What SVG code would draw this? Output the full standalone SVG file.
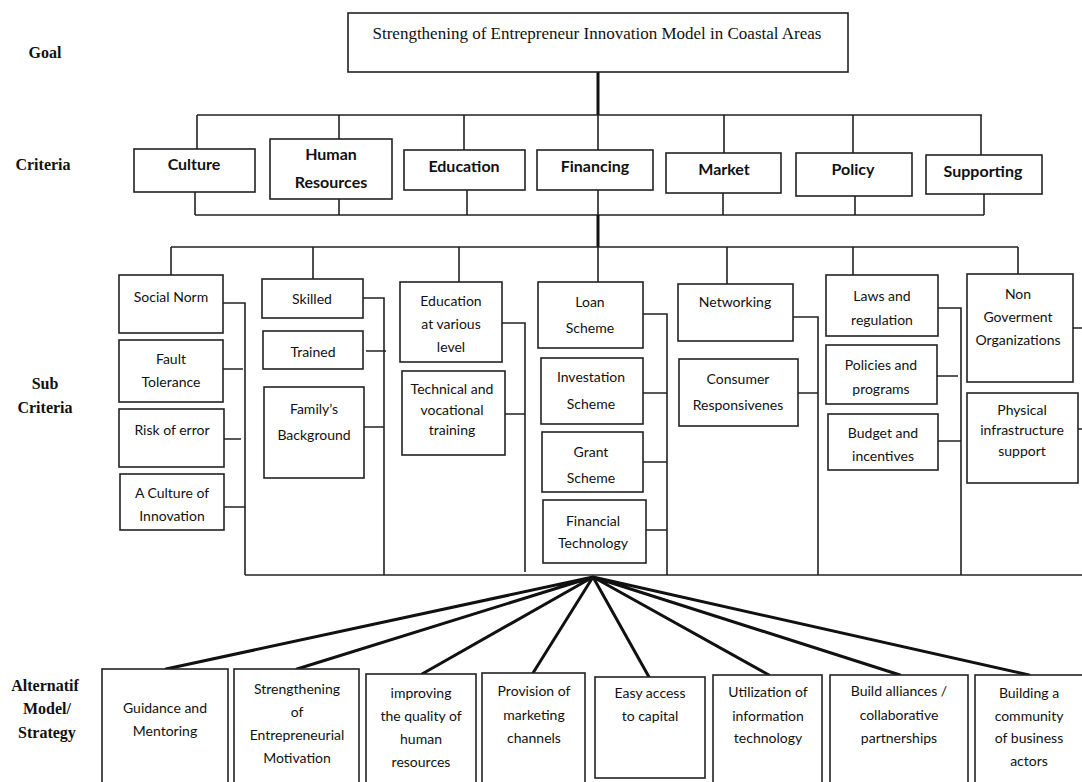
<svg xmlns="http://www.w3.org/2000/svg" width="1082" height="782" viewBox="0 0 1082 782">
<style>
.bx{fill:#fff;stroke:#222;stroke-width:1.6}
.ln{fill:none;stroke:#222;stroke-width:1.6}
.th{fill:none;stroke:#111;stroke-width:3}
.fan{fill:none;stroke:#111;stroke-width:3;stroke-linecap:round}
.t{font-family:Lato,'Liberation Sans',sans-serif;font-size:14px;fill:#111;text-anchor:middle}
.c{font-family:Lato,'Liberation Sans',sans-serif;font-size:16px;font-weight:bold;fill:#111;text-anchor:middle}
.g{font-family:'Liberation Serif',serif;font-size:17px;fill:#111;text-anchor:middle}
.lab{font-family:'Liberation Serif',serif;font-size:16px;font-weight:bold;fill:#111;text-anchor:middle}
</style>
<rect width="1082" height="782" fill="#fff"/>

<g id="labels">
<text class="lab" x="45" y="58">Goal</text>
<text class="lab" x="43" y="170">Criteria</text>
<text class="lab" x="45" y="389">Sub</text>
<text class="lab" x="45" y="413">Criteria</text>
<text class="lab" x="45" y="691">Alternatif</text>
<text class="lab" x="47" y="714">Model/</text>
<text class="lab" x="47" y="738">Strategy</text>
</g>

<g id="connectors">
<path class="th" d="M598 72V115"/>
<path class="ln" d="M197 115H982M197 115V149M339 115V139M464 115V150M598 115V150M724 115V153M853 115V153M981 115V155"/>
<path class="ln" d="M195 192V215M339 199V215M467 190V215M598 190V215M723 193V215M855 196V215M984 194V215M195 215H984"/>
<path class="th" d="M598 215V247"/>
<path class="ln" d="M171 247H1018M171 247V275M313 247V279M459 247V282M598 247V282M727 247V284M853 247V275M1018 247V274"/>
<path class="ln" d="M223 303H245V575M223 369H243M222 439H241M224 507H245"/>
<path class="ln" d="M361 298H384V575M366 351H386M364 427H384"/>
<path class="ln" d="M502 323H525V572M503 414H525"/>
<path class="ln" d="M643 314H667V575M643 393H667M643 462H667M646 530H667"/>
<path class="ln" d="M793 317H818V575M793 393H818"/>
<path class="ln" d="M938 308H961V575M937 376H958M938 441H961"/>
<path class="ln" d="M1073 328H1082M1078 429H1082"/>
<path class="ln" d="M245 575H1082"/>
<path class="fan" d="M593 577L166 669M593 577L297 669M593 577L422 674M593 577L533 673M593 577L649 677M593 577L769 675M593 577L900 675M593 577L1029 675"/>
</g>

<g id="goal">
<rect class="bx" x="348" y="13" width="500" height="59"/>
<text class="g" x="597" y="39">Strengthening of Entrepreneur Innovation Model in Coastal Areas</text>
</g>

<g id="crit-culture"><rect class="bx" x="134" y="149" width="121" height="43"/><text class="c" x="194" y="170">Culture</text></g>
<g id="crit-hr"><rect class="bx" x="270" y="139" width="122" height="60"/><text class="c" x="331" y="160">Human</text><text class="c" x="331" y="188">Resources</text></g>
<g id="crit-education"><rect class="bx" x="404" y="150" width="121" height="40"/><text class="c" x="464" y="172">Education</text></g>
<g id="crit-financing"><rect class="bx" x="537" y="150" width="116" height="40"/><text class="c" x="595" y="172">Financing</text></g>
<g id="crit-market"><rect class="bx" x="666" y="153" width="115" height="40"/><text class="c" x="724" y="175">Market</text></g>
<g id="crit-policy"><rect class="bx" x="796" y="153" width="116" height="43"/><text class="c" x="853" y="175">Policy</text></g>
<g id="crit-supporting"><rect class="bx" x="926" y="155" width="116" height="39"/><text class="c" x="983" y="177">Supporting</text></g>

<g id="sc-social-norm"><rect class="bx" x="119" y="275" width="104" height="58"/><text class="t" x="171" y="302">Social Norm</text></g>
<g id="sc-fault"><rect class="bx" x="119" y="340" width="104" height="62"/><text class="t" x="171" y="364">Fault</text><text class="t" x="171" y="387">Tolerance</text></g>
<g id="sc-risk"><rect class="bx" x="119" y="409" width="105" height="58"/><text class="t" x="172" y="435">Risk of error</text></g>
<g id="sc-culture-innovation"><rect class="bx" x="120" y="474" width="104" height="56"/><text class="t" x="172" y="498">A Culture of</text><text class="t" x="172" y="521">Innovation</text></g>

<g id="sc-skilled"><rect class="bx" x="262" y="279" width="101" height="39"/><text class="t" x="312" y="304">Skilled</text></g>
<g id="sc-trained"><rect class="bx" x="263" y="331" width="100" height="38"/><text class="t" x="313" y="357">Trained</text></g>
<g id="sc-family"><rect class="bx" x="264" y="387" width="100" height="91"/><text class="t" x="314" y="414">Family’s</text><text class="t" x="314" y="440">Background</text></g>

<g id="sc-edu-level"><rect class="bx" x="400" y="282" width="102" height="80"/><text class="t" x="451" y="306">Education</text><text class="t" x="451" y="329">at various</text><text class="t" x="451" y="352">level</text></g>
<g id="sc-technical"><rect class="bx" x="402" y="371" width="103" height="84"/><text class="t" x="452" y="394">Technical and</text><text class="t" x="452" y="415">vocational</text><text class="t" x="452" y="435">training</text></g>

<g id="sc-loan"><rect class="bx" x="538" y="282" width="105" height="66"/><text class="t" x="590" y="307">Loan</text><text class="t" x="590" y="333">Scheme</text></g>
<g id="sc-investation"><rect class="bx" x="541" y="358" width="102" height="66"/><text class="t" x="591" y="382">Investation</text><text class="t" x="591" y="409">Scheme</text></g>
<g id="sc-grant"><rect class="bx" x="542" y="432" width="101" height="60"/><text class="t" x="591" y="457">Grant</text><text class="t" x="591" y="483">Scheme</text></g>
<g id="sc-fintech"><rect class="bx" x="543" y="500" width="103" height="63"/><text class="t" x="593" y="526">Financial</text><text class="t" x="593" y="548">Technology</text></g>

<g id="sc-networking"><rect class="bx" x="678" y="284" width="115" height="57"/><text class="t" x="735" y="307">Networking</text></g>
<g id="sc-consumer"><rect class="bx" x="679" y="359" width="119" height="67"/><text class="t" x="738" y="384">Consumer</text><text class="t" x="738" y="410">Responsivenes</text></g>

<g id="sc-laws"><rect class="bx" x="826" y="275" width="112" height="61"/><text class="t" x="882" y="301">Laws and</text><text class="t" x="882" y="325">regulation</text></g>
<g id="sc-policies"><rect class="bx" x="826" y="345" width="111" height="59"/><text class="t" x="881" y="370">Policies and</text><text class="t" x="881" y="394">programs</text></g>
<g id="sc-budget"><rect class="bx" x="828" y="414" width="110" height="56"/><text class="t" x="883" y="438">Budget and</text><text class="t" x="883" y="461">incentives</text></g>

<g id="sc-ngo"><rect class="bx" x="967" y="274" width="106" height="108"/><text class="t" x="1018" y="299" font-size="13">Non</text><text class="t" x="1018" y="322" font-size="13">Goverment</text><text class="t" x="1018" y="345" font-size="13">Organizations</text></g>
<g id="sc-physical"><rect class="bx" x="967" y="393" width="111" height="90"/><text class="t" x="1022" y="415" font-size="13">Physical</text><text class="t" x="1022" y="435" font-size="13">infrastructure</text><text class="t" x="1022" y="456" font-size="13">support</text></g>

<g id="alt-guidance"><rect class="bx" x="102" y="669" width="126" height="120"/><text class="t" x="165" y="713">Guidance and</text><text class="t" x="165" y="736">Mentoring</text></g>
<g id="alt-strengthening"><rect class="bx" x="234" y="669" width="125" height="120"/><text class="t" x="297" y="694">Strengthening</text><text class="t" x="297" y="717">of</text><text class="t" x="297" y="740">Entrepreneurial</text><text class="t" x="297" y="763">Motivation</text></g>
<g id="alt-improving"><rect class="bx" x="366" y="674" width="110" height="115"/><text class="t" x="421" y="698">improving</text><text class="t" x="421" y="721">the quality of</text><text class="t" x="421" y="744">human</text><text class="t" x="421" y="767">resources</text></g>
<g id="alt-provision"><rect class="bx" x="482" y="673" width="103" height="116"/><text class="t" x="534" y="696">Provision of</text><text class="t" x="534" y="720">marketing</text><text class="t" x="534" y="743">channels</text></g>
<g id="alt-easy"><rect class="bx" x="595" y="677" width="110" height="101"/><text class="t" x="650" y="698">Easy access</text><text class="t" x="650" y="721">to capital</text></g>
<g id="alt-utilization"><rect class="bx" x="713" y="675" width="109" height="114"/><text class="t" x="768" y="697">Utilization of</text><text class="t" x="768" y="721">information</text><text class="t" x="768" y="743">technology</text></g>
<g id="alt-alliances"><rect class="bx" x="830" y="675" width="138" height="114"/><text class="t" x="899" y="696">Build alliances /</text><text class="t" x="899" y="720">collaborative</text><text class="t" x="899" y="743">partnerships</text></g>
<g id="alt-community"><rect class="bx" x="975" y="675" width="112" height="114"/><text class="t" x="1029" y="698">Building a</text><text class="t" x="1029" y="721">community</text><text class="t" x="1029" y="743">of business</text><text class="t" x="1029" y="766">actors</text></g>
</svg>
